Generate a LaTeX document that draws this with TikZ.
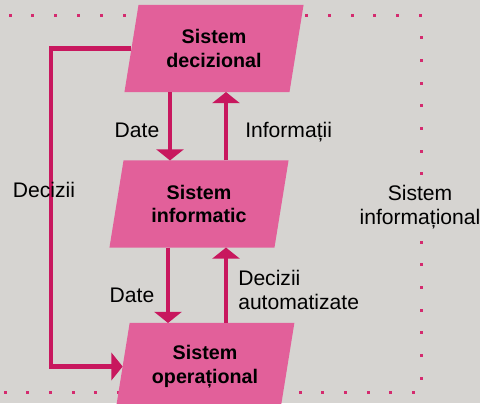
\documentclass[tikz,border=0pt]{standalone}
\usepackage{fontspec}
\setmainfont{Liberation Sans}
\usepackage{xcolor}
\usetikzlibrary{shapes.geometric, arrows.meta}
\definecolor{paper}{HTML}{D6D4D1}
\definecolor{sysfill}{HTML}{E2609A}
\definecolor{flowcol}{HTML}{C8175E}
\definecolor{dotcol}{HTML}{D42A6E}

\begin{document}
\begin{tikzpicture}[x=0.025cm, y=-0.025cm]
    \tikzset{system/.style={trapezium, trapezium left angle=77, trapezium right angle=103, trapezium stretches=true, minimum width=4.5cm, minimum height=2.175cm, inner sep=0pt, outer sep=0pt, fill=sysfill, align=center, font=\fontsize{14}{17}\selectfont\bfseries}}
    \tikzset{flow/.style={line width=3.4pt, draw=flowcol, -{Triangle[length=0.28cm, width=0.68cm]}}}
    \tikzset{lbl/.style={font=\fontsize{15}{16.5}\selectfont, inner sep=0pt}}

    \clip (0,0) rectangle (480,403);
    \fill[paper] (0,0) rectangle (480,403);

    \foreach \i in {0,...,18} {
        \fill[dotcol] (10+22.8*\i,15) ++(-1.5,-1.5) rectangle ++(3,3);
        \fill[dotcol] (5+22.7*\i,392) ++(-1.5,-1.5) rectangle ++(3,3);
    }
    \foreach \i in {1,...,16}
        \fill[dotcol] (421,15+22.7*\i) ++(-1.5,-1.5) rectangle ++(3,3);

    \node[system] (dec) at (214,48.5) {Sistem\\decizional};
    \node[system] (inf) at (199,204) {Sistem\\informatic};
    \node[system] (op) at (205,366.5) {Sistem\\operațional};

    \draw[flow] (dec.south -| 170,0) -- (inf.north -| 170,0);
    \draw[flow] (inf.north -| 226,0) -- (dec.south -| 226,0);
    \draw[flow] (inf.south -| 168,0) -- (op.north -| 168,0);
    \draw[flow] (op.north -| 226,0) -- (inf.south -| 226,0);
    \draw[flow] (dec.west) -- (dec.west -| 51,0) |- (op.west);

    \node[lbl, anchor=base] (date1) at (137,137) {Date};
    \node[lbl, anchor=base west] (infolbl) at (245,137) {Informații};
    \node[lbl, anchor=base] (dec1) at (44,197) {Decizii};
    \node[lbl, anchor=base] (date2) at (132,302) {Date};
    \node[lbl, align=left, anchor=west] (autolbl) at (238,290) {Decizii\\automatizate};
    \node[lbl, align=center, fill=paper, inner sep=2pt] (sinf) at (420,207) {Sistem\\informațional};
\end{tikzpicture}
\end{document}
